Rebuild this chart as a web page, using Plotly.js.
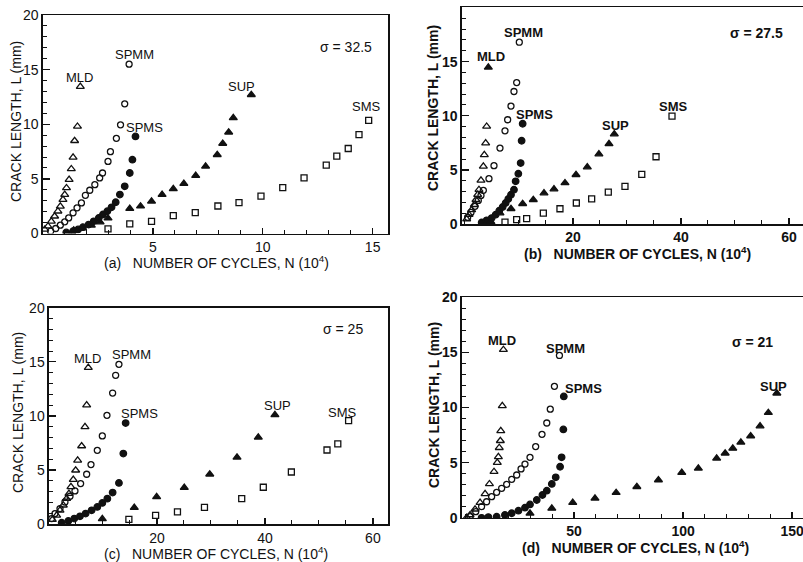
<!DOCTYPE html>
<html><head><meta charset="utf-8">
<script src="https://cdn.plot.ly/plotly-3.0.1.min.js"></script>
<style>html,body{margin:0;padding:0;background:#fff}#chart{width:803px;height:562px}</style>
</head><body><div id="chart"></div>
<script>
// ---------- Panel (a) sigma = 32.5 ----------
var a_MLD_N  = [0.08,0.23,0.38,0.53,0.68,0.79,0.91,0.99,1.07,1.19,1.29,1.37,1.44,1.57,1.70];
var a_MLD_L  = [0.37,0.67,1.12,1.58,2.04,2.49,3.10,3.56,4.17,4.93,5.91,6.97,8.49,9.80,13.45];
var a_SPMM_N = [0.35,0.58,0.79,0.99,1.17,1.37,1.55,1.75,1.93,2.13,2.36,2.58,2.71,2.96,3.07,3.34,3.53,3.72,3.92];
var a_SPMM_L = [0.21,0.46,0.76,1.07,1.43,1.89,2.35,2.80,3.50,3.96,4.47,5.09,5.54,6.60,7.49,8.71,9.95,11.87,15.5];
var a_SPMS_N = [1.06,1.37,1.60,1.82,2.08,2.31,2.54,2.73,2.93,3.12,3.31,3.50,3.72,3.95,4.07,4.21];
var a_SPMS_L = [0.10,0.21,0.37,0.58,0.82,1.12,1.43,1.74,2.04,2.40,2.86,3.56,4.32,5.54,6.76,8.89];
var a_SUP_N  = [1.40,1.80,2.20,2.60,2.96,3.95,4.44,4.94,5.42,5.93,6.41,6.95,7.40,7.93,8.18,8.45,8.66,9.48];
var a_SUP_L  = [0.30,0.50,0.75,1.05,1.40,2.28,2.50,2.95,3.56,4.08,4.57,5.30,6.15,7.21,8.24,9.27,10.58,12.7];
var a_SMS_N  = [2.96,3.95,4.94,5.93,6.93,7.96,8.92,9.92,10.91,11.88,12.89,13.37,13.89,14.38,14.82];
var a_SMS_L  = [0.43,0.88,1.12,1.64,1.91,2.52,2.83,3.43,4.20,5.10,6.26,7.08,7.78,9.06,10.36];
// ---------- Panel (b) sigma = 27.5 ----------
var b_MLD_N  = [0.31,0.74,1.23,1.73,2.04,2.35,2.59,2.96,3.40,3.58,3.83,4.01,4.32];
var b_MLD_L  = [0.46,0.86,1.31,1.78,2.24,2.71,3.17,4.03,5.32,6.39,7.47,9.01,14.47];
var b_SPMM_N = [0.49,1.11,1.85,2.47,2.96,3.40,4.44,5.37,6.48,7.41,7.90,8.52,9.07,9.57,10.06];
var b_SPMM_L = [0.61,1.07,1.63,2.18,2.64,3.11,4.19,5.39,7.01,8.61,9.63,10.89,12.24,13.06,16.79];
var b_SPMS_N = [3.09,4.01,4.94,5.68,6.35,6.98,7.53,8.02,8.52,9.07,9.38,9.88,10.31,10.49,10.68];
var b_SPMS_L = [0.14,0.34,0.55,0.86,1.23,1.57,1.94,2.31,2.71,3.17,3.94,4.64,5.63,7.69,9.26];
var b_SUP_N  = [4.80,6.48,8.52,10.68,12.65,14.63,16.48,18.52,20.56,22.65,24.80,26.67,27.65];
var b_SUP_L  = [0.20,1.01,1.41,1.87,2.24,2.86,3.23,3.79,4.55,5.26,6.46,7.41,8.31];
var b_SMS_N  = [7.41,9.57,11.42,14.51,17.59,20.62,23.46,26.54,29.63,32.74,35.38,38.34];
var b_SMS_L  = [0.18,0.40,0.49,1.01,1.41,1.94,2.33,2.95,3.47,4.58,6.21,9.97];
// ---------- Panel (c) sigma = 25 ----------
var c_MLD_N  = [0.62,1.42,2.04,2.65,3.27,3.70,4.07,4.50,4.94,5.31,6.05,6.67,6.98,7.28];
var c_MLD_L  = [0.43,0.83,1.29,1.76,2.37,2.83,3.45,4.13,4.99,5.91,7.23,9.00,11.0,14.47];
var c_SPMM_N = [0.49,1.11,2.04,2.96,3.89,4.81,5.86,6.98,7.78,8.95,9.88,10.74,11.79,12.35,12.96];
var c_SPMM_L = [0.53,0.99,1.45,2.06,2.59,3.08,3.76,4.62,5.51,6.83,8.16,10.06,12.12,13.76,14.77];
var c_SPMS_N = [2.35,3.58,4.69,5.74,6.79,7.90,8.95,9.88,10.81,11.79,12.96,13.77,14.20];
var c_SPMS_L = [0.15,0.31,0.53,0.74,0.99,1.29,1.60,1.97,2.37,2.93,3.82,6.53,9.35];
var c_SUP_N  = [9.88,15.8,19.94,25.06,29.78,34.83,38.77,41.85];
var c_SUP_L  = [0.50,1.54,2.53,3.39,4.62,6.18,8.03,10.1];
var c_SMS_N  = [14.8,19.75,23.8,28.8,35.7,39.7,44.9,51.5,53.5,55.5];
var c_SMS_L  = [0.46,0.83,1.14,1.57,2.37,3.42,4.83,6.86,7.42,9.57];
// ---------- Panel (d) sigma = 21 ----------
var d_MLD_N  = [0.8,2.3,4.6,6.9,9.2,11.2,13.3,14.8,15.3,15.7,16.2,16.4,17.1,17.6];
var d_MLD_L  = [0.05,0.27,0.79,1.39,2.18,3.08,4.19,5.01,5.54,6.36,6.99,7.88,10.15,15.23];
var d_SPMM_N = [2.3,4.9,7.6,9.9,12.2,14.5,16.8,19.1,21.4,23.7,25.7,27.5,29.8,32.4,35.3,37.5,39.1,41.0,43.3];
var d_SPMM_L = [0.12,0.57,1.03,1.47,1.93,2.32,2.69,3.05,3.50,3.89,4.44,4.88,5.49,6.46,7.57,8.60,9.85,11.92,14.71];
var d_SPMS_N = [7.6,10.7,14.5,18.3,21.4,24.5,27.5,29.8,32.9,35.5,37.5,39.8,41.6,43.6,44.3,45.1,45.3];
var d_SPMS_L = [0.02,0.08,0.12,0.27,0.43,0.66,0.93,1.23,1.63,2.08,2.47,3.08,3.68,4.64,5.49,8.02,11.0];
var d_SUP_N  = [29.8,39.8,49.4,59.6,69.3,78.8,88.7,99.4,107,115.4,119.3,122.8,126.5,131,135.3,139.1,143];
var d_SUP_L  = [0.42,0.87,1.39,1.78,2.29,2.83,3.44,4.11,4.50,5.40,5.86,6.30,6.85,7.42,8.32,9.53,11.29];

var seriesNames = ["MLD","SPMM","SPMS","SUP","SMS"];
var stressLabels = ["\u03c3 = 32.5","\u03c3 = 27.5","\u03c3 = 25","\u03c3 = 21"];
var panelTags = ["(a)","(b)","(c)","(d)"];
var xTickVals = [[5,10,15],[20,40,60],[20,40,60],[50,100,150]];
var yTickVals = [0,5,10,15,20];

var FONT = "Liberation Sans, Arial, sans-serif";
var SYM = {MLD:"triangle-up-open", SPMM:"circle-open", SPMS:"circle", SUP:"triangle-up", SMS:"square-open"};
var SIZE = {MLD:7, SPMM:6, SPMS:6.5, SUP:7, SMS:6};
var BOLD = [false,true,false,true];

function tr(name, xs, ys, k, symOverride){
  return {type:"scatter", mode:"markers", x:xs, y:ys, name:name,
    xaxis:"x"+(k===1?"":k), yaxis:"y"+(k===1?"":k), hoverinfo:"skip",
    marker:{symbol: symOverride || SYM[name], size:SIZE[name], color:"#111",
            line:{color:"#111", width:1.3}}};
}
var bMLDsym = b_MLD_N.map(function(v,i){return i===b_MLD_N.length-1 ? "triangle-up" : "triangle-up-open";});

var data = [
  tr("MLD",a_MLD_N,a_MLD_L,1), tr("SPMM",a_SPMM_N,a_SPMM_L,1), tr("SPMS",a_SPMS_N,a_SPMS_L,1),
  tr("SUP",a_SUP_N,a_SUP_L,1), tr("SMS",a_SMS_N,a_SMS_L,1),
  tr("MLD",b_MLD_N,b_MLD_L,2,bMLDsym), tr("SPMM",b_SPMM_N,b_SPMM_L,2), tr("SPMS",b_SPMS_N,b_SPMS_L,2),
  tr("SUP",b_SUP_N,b_SUP_L,2), tr("SMS",b_SMS_N,b_SMS_L,2),
  tr("MLD",c_MLD_N,c_MLD_L,3), tr("SPMM",c_SPMM_N,c_SPMM_L,3), tr("SPMS",c_SPMS_N,c_SPMS_L,3),
  tr("SUP",c_SUP_N,c_SUP_L,3), tr("SMS",c_SMS_N,c_SMS_L,3),
  tr("MLD",d_MLD_N,d_MLD_L,4), tr("SPMM",d_SPMM_N,d_SPMM_L,4), tr("SPMS",d_SPMS_N,d_SPMS_L,4),
  tr("SUP",d_SUP_N,d_SUP_L,4)
];

function xax(domain, range, tv, minorStep, anchor, bold){
  return {domain:domain, range:range, anchor:anchor, showgrid:false, zeroline:false,
    showline:true, linecolor:"#111", linewidth:1.5, mirror:true,
    tickmode:"array", tickvals:tv, ticks:"inside", ticklen:6, tickcolor:"#111", tickwidth:1.3,
    ticklabeloverflow:"allow",
    tickfont:{family:FONT, size:14, color:"#111", weight: bold ? "bold" : "normal"},
    minor:{tickmode:"linear", tick0:0, dtick:minorStep, ticks:"inside", ticklen:4, tickcolor:"#111", tickwidth:1, showgrid:false}};
}
function yax(domain, anchor, fullBox, bold){
  return {domain:domain, range:[0,20], anchor:anchor, showgrid:false, zeroline:false,
    showline:true, linecolor:"#111", linewidth:1.5, mirror: fullBox ? true : false,
    tickmode:"array", tickvals:yTickVals, ticks:"inside", ticklen:7, tickcolor:"#111", tickwidth:1.3,
    tickfont:{family:FONT, size:14, color:"#111", weight: bold ? "bold" : "normal"},
    minor:{tickmode:"linear", tick0:0, dtick:1, ticks:"inside", ticklen:4, tickcolor:"#111", tickwidth:1, showgrid:false}};
}

var layout = {
  width:803, height:562, margin:{l:0,r:0,t:0,b:0}, showlegend:false,
  paper_bgcolor:"#fff", plot_bgcolor:"#fff", font:{family:FONT, color:"#111"},
  xaxis:  xax([0.0535,0.4832],[0,15.7],xTickVals[0],1,"y",false),
  yaxis:  yax([0.5845,0.9733],"x",true,false),
  xaxis2: xax([0.5753,1.0],[-0.56,62.6],xTickVals[1],5,"y2",true),
  yaxis2: yax([0.6014,0.9867],"x2",false,true),
  xaxis3: xax([0.0610,0.4832],[0,62.8],xTickVals[2],5,"y3",false),
  yaxis3: yax([0.0671,0.4525],"x3",true,false),
  xaxis4: xax([0.5753,1.0],[-1.4,155],xTickVals[3],10,"y4",true),
  yaxis4: yax([0.0783,0.4715],"x4",false,true),
  annotations:[]
};

function lab(text, x, y, k, size){
  layout.annotations.push({text:text, x:x, y:y, xref:"x"+(k===1?"":k), yref:"y"+(k===1?"":k),
    xanchor:"center", yanchor:"middle", showarrow:false,
    font:{family:FONT, size:size||13, color:"#111", weight: BOLD[k-1] ? "bold" : "normal"}});
}
lab(seriesNames[0],1.68,14.3,1); lab(seriesNames[1],4.18,16.35,1); lab(seriesNames[2],4.62,9.7,1);
lab(seriesNames[3],9.04,13.5,1); lab(seriesNames[4],14.74,11.64,1); lab(stressLabels[0],13.8,17.1,1,14);
lab(seriesNames[0],4.8,15.48,2); lab(seriesNames[1],10.8,17.7,2); lab(seriesNames[2],12.96,10.1,2);
lab(seriesNames[3],27.9,9.11,2); lab(seriesNames[4],38.7,10.89,2); lab(stressLabels[1],54.0,17.6,2,14);
lab(seriesNames[0],7.16,15.3,3); lab(seriesNames[1],15.3,15.67,3); lab(seriesNames[2],16.85,10.22,3);
lab(seriesNames[3],42.3,11.0,3); lab(seriesNames[4],54.4,10.3,3); lab(stressLabels[2],54.5,18.0,3,14);
lab(seriesNames[0],16.8,16.06,4); lab(seriesNames[1],45.9,15.34,4); lab(seriesNames[2],54.3,11.71,4);
lab(seriesNames[3],141.4,11.92,4); lab(stressLabels[3],132,15.96,4,14);

function ptxt(text, px, py, angle, bold){
  layout.annotations.push({text:text, x:px/803, y:1-py/562, xref:"paper", yref:"paper",
    xanchor:"center", yanchor:"middle", showarrow:false, textangle:angle||0,
    font:{family:FONT, size:14, color:"#111", weight: bold ? "bold" : "normal"}});
}
var xt = function(i){ return panelTags[i] + "&nbsp;&nbsp; NUMBER OF CYCLES, N (10<sup>4</sup>)"; };
ptxt(xt(0), 216, 262, 0, BOLD[0]); ptxt(xt(1), 637, 253, 0, BOLD[1]);
ptxt(xt(2), 216, 553, 0, BOLD[2]); ptxt(xt(3), 635, 547, 0, BOLD[3]);
var yt = "CRACK LENGTH, L (mm)";
ptxt(yt, 16, 122, -90, BOLD[0]); ptxt(yt, 433, 108, -90, BOLD[1]);
ptxt(yt, 18, 413, -90, BOLD[2]); ptxt(yt, 434, 405, -90, BOLD[3]);

Plotly.newPlot("chart", data, layout, {staticPlot:true, displayModeBar:false});
</script></body></html>
